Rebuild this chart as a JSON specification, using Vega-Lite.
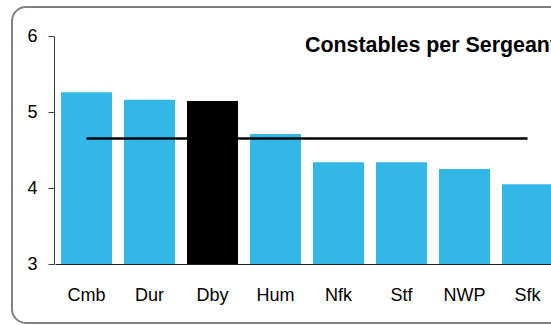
{
  "$schema": "https://vega.github.io/schema/vega-lite/v6.json",
  "width": 600,
  "height": 316,
  "autosize": {"type": "none"},
  "padding": {"left": 12, "top": 7, "right": 0, "bottom": 2},
  "background": "white",
  "title": {
    "text": "Constables per Sergeant",
    "anchor": "start",
    "frame": "group",
    "font": "Liberation Sans",
    "fontSize": 21.4,
    "fontWeight": "bold",
    "color": "#000000",
    "baseline": "alphabetic",
    "offset": 0,
    "dx": 293,
    "dy": 66
  },
  "data": {
    "values": [
      {"force": "Cmb", "ratio": 5.26, "average": 4.65, "highlight": "no"},
      {"force": "Dur", "ratio": 5.16, "average": 4.65, "highlight": "no"},
      {"force": "Dby", "ratio": 5.145, "average": 4.65, "highlight": "yes"},
      {"force": "Hum", "ratio": 4.71, "average": 4.65, "highlight": "no"},
      {"force": "Nfk", "ratio": 4.34, "average": 4.65, "highlight": "no"},
      {"force": "Stf", "ratio": 4.34, "average": 4.65, "highlight": "no"},
      {"force": "NWP", "ratio": 4.25, "average": 4.65, "highlight": "no"},
      {"force": "Sfk", "ratio": 4.05, "average": 4.65, "highlight": "no"}
    ]
  },
  "encoding": {
    "x": {
      "field": "force",
      "type": "nominal",
      "sort": null,
      "scale": {"range": [43, 547], "paddingInner": 0.19, "paddingOuter": 0.095},
      "axis": {
        "title": null,
        "offset": -59,
        "ticks": false,
        "labelAngle": 0,
        "labelPadding": 22,
        "labelFont": "Liberation Sans",
        "labelFontSize": 18,
        "labelColor": "#000000",
        "domainColor": "#202020",
        "domainWidth": 1
      }
    }
  },
  "layer": [
    {
      "mark": {"type": "bar"},
      "encoding": {
        "y": {
          "field": "ratio",
          "type": "quantitative",
          "scale": {"domain": [3, 6], "range": [257, 29], "zero": false},
          "axis": {
            "title": null,
            "values": [3, 4, 5, 6],
            "format": "d",
            "offset": -42,
            "grid": false,
            "tickSize": 6,
            "tickColor": "#404040",
            "domainColor": "#404040",
            "labelPadding": 11,
            "labelFont": "Liberation Sans",
            "labelFontSize": 18,
            "labelColor": "#000000"
          }
        },
        "y2": {"datum": 3},
        "color": {
          "field": "highlight",
          "type": "nominal",
          "scale": {"domain": ["no", "yes"], "range": ["#33B7E7", "#000000"]},
          "legend": null
        }
      }
    },
    {
      "mark": {"type": "line", "color": "#000000", "strokeWidth": 2.5},
      "encoding": {
        "y": {"field": "average", "type": "quantitative"}
      }
    }
  ],
  "config": {
    "view": {"stroke": "#808080", "strokeWidth": 2, "cornerRadius": 14}
  }
}
